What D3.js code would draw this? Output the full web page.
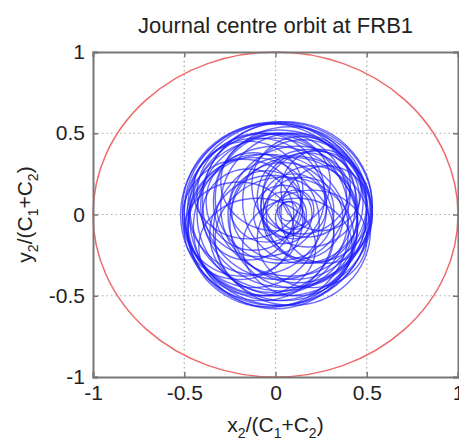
<!DOCTYPE html>
<html>
<head>
<meta charset="utf-8">
<script src="https://cdn.jsdelivr.net/npm/d3@7"></script>
<style>
  body { margin: 0; background: #fff; }
  text { font-family: "Liberation Sans", Arial, sans-serif; fill: #222; }
</style>
</head>
<body>
<div id="chart"></div>
<script>
// ticks on both axes
var tickValues = [-1, -0.5, 0, 0.5, 1];

// orbit loops: centre and half-widths (normalised units)
var loopCx = [0, 0.02, -0.03, 0.03, -0.02, 0.05, -0.05, 0, 0.08, 0.1, 0.12, 0.15, 0.1, -0.1, -0.12, -0.08, 0.05, 0.18, 0.2, 0.15, 0.1, 0.05, 0.08, -0.05, -0.15, -0.2, 0, 0.25, -0.1, 0.12, 0, 0.04, 0.02, -0.15, 0.2,
    0.06, -0.04, 0.03, 0.14, -0.18, 0.22, -0.08, 0.09, 0.17, -0.12, 0.04, 0.11, -0.02, 0.07, 0.28];
var loopCy = [0.02, -0.02, 0.03, 0.05, -0.05, 0, 0, -0.08, 0.08, 0.05, 0, 0.08, -0.05, 0.05, -0.05, 0.12, -0.15, 0.1, 0, -0.02, 0.05, 0, -0.02, 0.05, 0, -0.1, 0.2, 0.15, -0.2, -0.2, 0, 0.02, 0.08, 0.15, -0.15,
    0.06, -0.1, 0.1, 0.18, -0.02, 0.05, -0.08, -0.1, 0.12, 0.08, 0.0, 0.03, -0.12, 0.02, 0.0];
var loopRx = [0.5, 0.49, 0.48, 0.5, 0.47, 0.48, 0.45, 0.45, 0.42, 0.4, 0.38, 0.33, 0.35, 0.38, 0.36, 0.35, 0.38, 0.28, 0.25, 0.22, 0.18, 0.12, 0.08, 0.2, 0.25, 0.3, 0.3, 0.22, 0.32, 0.3, 0.52, 0.28, 0.42, 0.3, 0.3,
    0.47, 0.44, 0.36, 0.27, 0.33, 0.3, 0.4, 0.43, 0.24, 0.26, 0.16, 0.1, 0.34, 0.05, 0.25];
var loopRy = [0.55, 0.54, 0.53, 0.52, 0.52, 0.5, 0.5, 0.5, 0.46, 0.45, 0.42, 0.38, 0.4, 0.42, 0.4, 0.38, 0.38, 0.3, 0.3, 0.25, 0.2, 0.14, 0.1, 0.22, 0.28, 0.3, 0.3, 0.25, 0.3, 0.3, 0.56, 0.3, 0.48, 0.3, 0.3,
    0.51, 0.47, 0.4, 0.3, 0.36, 0.34, 0.45, 0.46, 0.26, 0.3, 0.18, 0.12, 0.36, 0.06, 0.3];

// bearing clearance circle
var clearance = [{ cx: 0, cy: 0, r: 1 }];

var svgWidth = 459;
var svgHeight = 441;

var margin = { top: 52, right: 1, bottom: 64, left: 93 };
var chartWidth = svgWidth - margin.left - margin.right;
var chartHeight = svgHeight - margin.top - margin.bottom;

var svg = d3.select("#chart")
    .append("svg")
    .attr("width", svgWidth)
    .attr("height", svgHeight);

var chartGroup = svg.append("g")
    .attr("transform", `translate(${margin.left}, ${margin.top})`);

var x = d3.scaleLinear().domain([-1, 1]).range([0, chartWidth]);
var y = d3.scaleLinear().domain([-1, 1]).range([chartHeight, 0]);

// dotted grid
chartGroup.selectAll(".gx")
    .data(tickValues.slice(1, -1))
    .enter().append("line")
    .attr("x1", d => x(d)).attr("x2", d => x(d))
    .attr("y1", 0).attr("y2", chartHeight)
    .attr("stroke", "#aaa").attr("stroke-width", 1.2)
    .attr("stroke-dasharray", "1.5,3");

chartGroup.selectAll(".gy")
    .data(tickValues.slice(1, -1))
    .enter().append("line")
    .attr("y1", d => y(d)).attr("y2", d => y(d))
    .attr("x1", 0).attr("x2", chartWidth)
    .attr("stroke", "#aaa").attr("stroke-width", 1.2)
    .attr("stroke-dasharray", "1.5,3");

// red circle
chartGroup.selectAll(".clear")
    .data(clearance)
    .enter().append("ellipse")
    .attr("cx", d => x(d.cx))
    .attr("cy", d => y(d.cy))
    .attr("rx", d => x(d.r) - x(0))
    .attr("ry", d => y(0) - y(d.r))
    .attr("fill", "none")
    .attr("stroke", "#ee6a6a")
    .attr("stroke-width", 1.5);

// orbit
var loops = loopCx.map(function (d, i) {
    return { cx: d, cy: loopCy[i], rx: loopRx[i], ry: loopRy[i] };
});

chartGroup.selectAll(".loop")
    .data(loops)
    .enter().append("ellipse")
    .attr("cx", d => x(d.cx))
    .attr("cy", d => y(d.cy))
    .attr("rx", d => x(d.rx) - x(0))
    .attr("ry", d => y(0) - y(d.ry))
    .attr("fill", "none")
    .attr("stroke", "#1a1aff")
    .attr("stroke-opacity", 0.65)
    .attr("stroke-width", 1.4);

// axes, MATLAB style inward ticks on all four sides
var axisColor = "#777";
var fmt = d => d3.format("~g")(d).replace("\u2212", "-");
var bottomAxis = d3.axisBottom(x).tickValues(tickValues).tickSize(-5).tickPadding(8).tickFormat(fmt);
var leftAxis = d3.axisLeft(y).tickValues(tickValues).tickSize(-5).tickPadding(8).tickFormat(fmt);
var topAxis = d3.axisTop(x).tickValues(tickValues).tickSize(-5).tickFormat("");
var rightAxis = d3.axisRight(y).tickValues(tickValues).tickSize(-5).tickFormat("");

var gB = chartGroup.append("g").attr("transform", `translate(0, ${chartHeight})`).call(bottomAxis);
var gL = chartGroup.append("g").call(leftAxis);
var gT = chartGroup.append("g").call(topAxis);
var gR = chartGroup.append("g").attr("transform", `translate(${chartWidth}, 0)`).call(rightAxis);

[gB, gL, gT, gR].forEach(function (g) {
    g.select(".domain").attr("stroke", axisColor).attr("stroke-width", 2);
    g.selectAll(".tick line").attr("stroke", axisColor).attr("stroke-width", 1.5);
    g.selectAll("text").attr("font-size", "21px").attr("fill", "#222")
        .style("font-family", "'Liberation Sans', Arial, sans-serif");
});

// title
svg.append("text")
    .attr("x", margin.left + chartWidth / 2)
    .attr("y", 33)
    .attr("text-anchor", "middle")
    .attr("font-size", "22px")
    .text("Journal centre orbit at FRB1");

// axis labels with subscripts
function subLabel(g, name) {
    g.append("tspan").text(name);
    g.append("tspan").attr("font-size", "14px").attr("dy", 6).text("2");
    g.append("tspan").attr("dy", -6).text("/(C");
    g.append("tspan").attr("font-size", "14px").attr("dy", 6).text("1");
    g.append("tspan").attr("dy", -6).text("+C");
    g.append("tspan").attr("font-size", "14px").attr("dy", 6).text("2");
    g.append("tspan").attr("dy", -6).text(")");
}

var xLabel = svg.append("text")
    .attr("x", margin.left + chartWidth / 2)
    .attr("y", 432)
    .attr("text-anchor", "middle")
    .attr("font-size", "21px");
subLabel(xLabel, "x");

var yLabel = svg.append("text")
    .attr("transform", `translate(32, ${margin.top + chartHeight / 2}) rotate(-90)`)
    .attr("text-anchor", "middle")
    .attr("font-size", "21px");
subLabel(yLabel, "y");
</script>
</body>
</html>
